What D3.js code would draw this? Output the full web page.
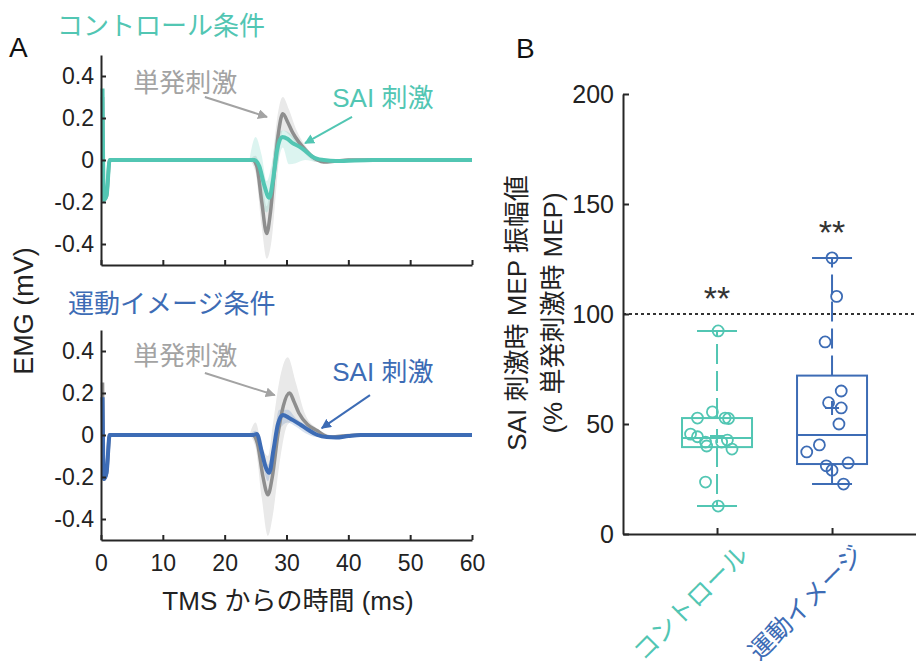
<!DOCTYPE html>
<html lang="ja">
<head>
<meta charset="UTF-8">
<title>SAI MEP</title>
<script src="https://d3js.org/d3.v7.min.js"></script>
<style>
  body { margin: 0; background: #fff; }
  svg { display: block; font-family: "Liberation Sans", "Noto Sans CJK JP", sans-serif; }
  .axis path, .axis line { stroke: #262626; stroke-width: 2; }
</style>
</head>
<body>
<svg width="916" height="661"></svg>
<script>
// ---- panel A: mean EMG traces (ms, mV) ----
const tCtrlSingle = [0.25, 0.45, 0.9, 1.4, 24.5, 25.2, 26.0, 26.8, 27.4, 28.2, 28.8, 29.4, 30.2, 31.0, 32.0, 33.0, 34.0, 35.0, 36.0, 38.0, 40, 60];
const vCtrlSingle = [0.30, -0.19, -0.17, 0, 0, -0.03, -0.2, -0.35, -0.25, 0.0, 0.15, 0.22, 0.18, 0.13, 0.085, 0.05, 0.02, 0.0, -0.01, -0.005, 0, 0];
const tCtrlSai = [0.25, 0.45, 0.9, 1.4, 24.8, 25.6, 26.4, 27.2, 27.8, 28.5, 29.3, 30.2, 31.0, 32.0, 33.0, 34.0, 35.0, 36.0, 38.0, 44, 60];
const vCtrlSai = [0.34, -0.19, -0.17, 0, 0, -0.03, -0.12, -0.18, -0.1, 0.05, 0.11, 0.1, 0.08, 0.065, 0.045, 0.02, 0.005, 0, -0.005, 0, 0];
const tCtrlBand = [24, 25, 26, 26.8, 27.6, 28.4, 29.4, 30.4, 31.5, 33, 35, 36];
const ctrlSingleHi = [0, 0.02, -0.08, -0.22, -0.05, 0.18, 0.30, 0.24, 0.15, 0.07, 0.01, 0];
const ctrlSingleLo = [0, -0.06, -0.32, -0.47, -0.38, -0.12, 0.14, 0.12, 0.08, 0.03, -0.01, 0];
const ctrlSaiHi = [0, 0.11, 0.02, -0.1, -0.02, 0.12, 0.14, 0.13, 0.10, 0.06, 0.01, 0];
const ctrlSaiLo = [0, -0.02, -0.2, -0.25, -0.18, -0.05, 0.06, -0.02, -0.015, 0.0, -0.01, 0];

const tImgSingle = [0.25, 0.45, 0.9, 1.4, 24.5, 25.3, 26.2, 27.0, 27.7, 28.6, 29.5, 30.5, 31.2, 32.0, 33.4, 35.0, 36.0, 37.0, 39.0, 42, 60];
const vImgSingle = [0.25, -0.21, -0.18, 0, 0, -0.04, -0.2, -0.285, -0.2, 0.0, 0.14, 0.2, 0.16, 0.105, 0.05, 0.02, 0.0, -0.01, -0.005, 0, 0];
const tImgSai = [0.25, 0.45, 0.9, 1.4, 24.6, 25.2, 26.0, 26.6, 27.2, 27.9, 28.6, 29.4, 30.5, 32.2, 33.5, 35.0, 36.5, 38.0, 40, 42, 60];
const vImgSai = [0.18, -0.21, -0.18, 0, 0, 0.005, -0.08, -0.15, -0.18, -0.07, 0.05, 0.095, 0.08, 0.05, 0.025, 0.0, -0.01, -0.012, -0.005, 0, 0];
const tImgBand = [24, 25, 26, 27, 27.8, 28.8, 30.2, 31.5, 33, 35, 37];
const imgSingleHi = [0, 0.06, -0.05, -0.1, 0.05, 0.25, 0.37, 0.25, 0.1, 0.03, 0];
const imgSingleLo = [0, -0.06, -0.3, -0.48, -0.38, -0.15, 0.05, 0.07, 0.02, 0.0, 0];
const imgSaiHi = [0, 0.02, -0.05, -0.14, -0.05, 0.12, 0.12, 0.08, 0.05, 0.01, 0];
const imgSaiLo = [0, -0.01, -0.12, -0.22, -0.1, 0.02, 0.06, 0.04, 0.01, -0.01, 0];

const emgTicks = [-0.4, -0.2, 0, 0.2, 0.4];
const timeTicks = [0, 10, 20, 30, 40, 50, 60];

// ---- panel B: SAI MEP ratio (% single-pulse MEP) ----
const groups = ["コントロール", "運動イメージ"];
const ctrlValues = [92.3, 55.5, 52.7, 52.7, 52.5, 45.4, 44.2, 41.8, 40, 41.8, 42.7, 38.6, 23.6, 12.7];
const ctrlJitter = [0.01, -0.04, -0.17, 0.07, 0.1, -0.23, -0.17, -0.1, -0.09, 0.04, 0.09, 0.13, -0.1, 0.01];
const imgValues = [125.5, 108, 87.3, 65, 59.7, 57.3, 50, 40.5, 37.3, 31, 29, 32.3, 22.7];
const imgJitter = [0, 0.04, -0.06, 0.08, -0.03, 0.08, 0.06, -0.11, -0.22, -0.05, 0, 0.14, 0.1];
// [whisker low, q1, median, q3, whisker high, mean]
const ctrlBox = [12.7, 39.5, 43.6, 52.7, 92.3, 44.5];
const imgBox = [22.7, 31.8, 45, 72, 125.5, 57.3];
const starLevel = [102, 132];
const ratioTicks = [0, 50, 100, 150, 200];

const teal = "#52C6B3", blue = "#3D6CB5", grayLine = "#8E8E8E", grayText = "#A3A3A3";

const svg = d3.select("svg");
const zip = (t, v) => t.map((d, i) => [d, v[i]]);
const zip3 = (t, lo, hi) => t.map((d, i) => [d, lo[i], hi[i]]);
const fmtEmg = d => d === 0 ? "0" : d3.format(".1f")(d).replace("−", "-");

const defs = svg.append("defs");
[["gray", grayText], ["teal", teal], ["blue", blue]].forEach(([id, c]) => {
  defs.append("marker").attr("id", "arr-" + id)
    .attr("viewBox", "0 0 10 10").attr("refX", 9).attr("refY", 5)
    .attr("markerWidth", 5).attr("markerHeight", 5).attr("orient", "auto")
    .append("path").attr("d", "M0,0 L10,5 L0,10 Z").attr("fill", c);
});

const x = d3.scaleLinear().domain([0, 60]).range([101, 472]);

function emgPanel(y, cfg) {
  const g = svg.append("g");
  const line = d3.line().x(d => x(d[0])).y(d => y(d[1])).curve(d3.curveMonotoneX);
  const area = d3.area().x(d => x(d[0])).y0(d => y(d[1])).y1(d => y(d[2])).curve(d3.curveMonotoneX);

  g.append("path").attr("d", area(zip3(cfg.tBand, cfg.singleLo, cfg.singleHi))).attr("fill", "#E9E9E9");
  g.append("path").attr("d", area(zip3(cfg.tBand, cfg.saiLo, cfg.saiHi))).attr("fill", cfg.color).attr("opacity", 0.2);
  g.append("path").attr("d", line(zip(cfg.tSingle, cfg.vSingle)))
    .attr("fill", "none").attr("stroke", grayLine).attr("stroke-width", 3.5).attr("stroke-linejoin", "round");
  g.append("path").attr("d", line(zip(cfg.tSai, cfg.vSai)))
    .attr("fill", "none").attr("stroke", cfg.color).attr("stroke-width", 4).attr("stroke-linejoin", "round");

  const ya = g.append("g").attr("class", "axis").attr("transform", `translate(${x(0)},0)`)
    .call(d3.axisLeft(y).tickValues(emgTicks).tickFormat(fmtEmg).tickSizeInner(-5).tickSizeOuter(0).tickPadding(7));
  ya.selectAll("text").attr("font-size", 23).attr("fill", "#222").attr("font-family", "Liberation Sans");

  const xa = g.append("g").attr("class", "axis").attr("transform", `translate(0,${y.range()[0]})`)
    .call(d3.axisBottom(x).tickValues(timeTicks).tickSizeInner(-5).tickSizeOuter(0).tickPadding(15)
      .tickFormat(cfg.labels ? d3.format("d") : ""));
  xa.selectAll("text").attr("font-size", 23).attr("fill", "#222").attr("font-family", "Liberation Sans");
  g.selectAll(".domain").attr("fill", "none");

  // annotations
  g.append("text").attr("x", x(5.2)).attr("y", y(cfg.singleLabelY)).attr("dy", "0.36em")
    .attr("font-size", 26).attr("fill", grayText).text("単発刺激");
  g.append("text").attr("x", x(37.4)).attr("y", y(cfg.saiLabelY)).attr("dy", "0.36em")
    .attr("font-size", 26).attr("fill", cfg.color).text("SAI 刺激");
  const arrow = (a, c, id) => g.append("line")
    .attr("x1", x(a[0])).attr("y1", y(a[1])).attr("x2", x(a[2])).attr("y2", y(a[3]))
    .attr("stroke", c).attr("stroke-width", 2).attr("marker-end", `url(#arr-${id})`);
  arrow(cfg.grayArrow, grayText, "gray");
  arrow(cfg.saiArrow, cfg.color, cfg.id);
}

const yTop = d3.scaleLinear().domain([-0.5, 0.5]).range([265, 55]);
const yBot = d3.scaleLinear().domain([-0.5, 0.5]).range([540, 330]);

emgPanel(yTop, {
  color: teal, id: "teal", labels: false,
  tSingle: tCtrlSingle, vSingle: vCtrlSingle, tSai: tCtrlSai, vSai: vCtrlSai,
  tBand: tCtrlBand, singleHi: ctrlSingleHi, singleLo: ctrlSingleLo, saiHi: ctrlSaiHi, saiLo: ctrlSaiLo,
  singleLabelY: 0.367, saiLabelY: 0.295, grayArrow: [16.8, 0.30, 26.85, 0.205], saiArrow: [40.6, 0.205, 33.0, 0.08]
});
emgPanel(yBot, {
  color: blue, id: "blue", labels: true,
  tSingle: tImgSingle, vSingle: vImgSingle, tSai: tImgSai, vSai: vImgSai,
  tBand: tImgBand, singleHi: imgSingleHi, singleLo: imgSingleLo, saiHi: imgSaiHi, saiLo: imgSaiLo,
  singleLabelY: 0.376, saiLabelY: 0.30, grayArrow: [16.8, 0.295, 28.1, 0.19], saiArrow: [43.5, 0.19, 35.7, 0.033]
});

svg.append("text").attr("x", 9).attr("y", 57).attr("font-size", 28).attr("fill", "#111").text("A");
svg.append("text").attr("x", 57).attr("y", 35).attr("font-size", 26).attr("fill", teal).text("コントロール条件");
svg.append("text").attr("x", 68).attr("y", 313).attr("font-size", 26).attr("fill", blue).text("運動イメージ条件");
svg.append("text").attr("transform", "translate(33,311) rotate(-90)").attr("text-anchor", "middle")
  .attr("font-size", 27).attr("fill", "#222").text("EMG (mV)");
svg.append("text").attr("x", 288).attr("y", 610).attr("text-anchor", "middle")
  .attr("font-size", 26).attr("fill", "#222").text("TMS からの時間 (ms)");

// ---- panel B ----
const xB = d3.scaleLinear().domain([0.1826, 2.73]).range([623, 916]);
const yB = d3.scaleLinear().domain([0, 200]).range([534, 94]);
const gB = svg.append("g");

gB.append("line").attr("x1", xB.range()[0]).attr("x2", xB.range()[1]).attr("y1", yB(100)).attr("y2", yB(100))
  .attr("stroke", "#333").attr("stroke-width", 2).attr("stroke-dasharray", "3,3");

const yaB = gB.append("g").attr("class", "axis").attr("transform", `translate(${xB.range()[0]},0)`)
  .call(d3.axisLeft(yB).tickValues(ratioTicks).tickSizeInner(-6).tickSizeOuter(0).tickPadding(9));
yaB.selectAll("text").attr("font-size", 25).attr("fill", "#222").attr("font-family", "Liberation Sans");
gB.append("g").attr("class", "axis").attr("transform", `translate(0,${yB(0)})`)
  .call(d3.axisBottom(xB).tickValues([1, 2]).tickSizeInner(-6).tickSizeOuter(0).tickFormat(""));
gB.selectAll(".domain").attr("fill", "none");

function boxGroup(i, vals, jit, box, color) {
  const cx = xB(i), bw = 70, cap = 40;
  const g = gB.append("g").attr("stroke", color).attr("fill", "none").attr("stroke-width", 2);
  g.append("line").attr("x1", cx).attr("x2", cx).attr("y1", yB(box[3])).attr("y2", yB(box[4])).attr("stroke-dasharray", "20,7");
  g.append("line").attr("x1", cx).attr("x2", cx).attr("y1", yB(box[1])).attr("y2", yB(box[0])).attr("stroke-dasharray", "20,7");
  g.append("line").attr("x1", cx - cap / 2).attr("x2", cx + cap / 2).attr("y1", yB(box[4])).attr("y2", yB(box[4]));
  g.append("line").attr("x1", cx - cap / 2).attr("x2", cx + cap / 2).attr("y1", yB(box[0])).attr("y2", yB(box[0]));
  g.append("rect").attr("x", cx - bw / 2).attr("width", bw).attr("y", yB(box[3])).attr("height", yB(box[1]) - yB(box[3]));
  g.append("line").attr("x1", cx - bw / 2).attr("x2", cx + bw / 2).attr("y1", yB(box[2])).attr("y2", yB(box[2]));
  g.append("path").attr("d", `M${cx - 7},${yB(box[5])}h14M${cx},${yB(box[5]) - 7}v14`);
  g.selectAll("circle").data(vals).join("circle")
    .attr("cx", (d, k) => xB(i + jit[k])).attr("cy", d => yB(d)).attr("r", 5.5).attr("stroke-width", 1.8);
  gB.append("text").attr("x", cx).attr("y", yB(starLevel[i - 1])).attr("text-anchor", "middle")
    .attr("font-size", 34).attr("fill", "#333").text("**");
  gB.append("text").attr("transform", `translate(${cx + 33},${yB(0) + 22}) rotate(-45)`)
    .attr("text-anchor", "end").attr("font-size", 25).attr("fill", color).text(groups[i - 1]);
}
boxGroup(1, ctrlValues, ctrlJitter, ctrlBox, teal);
boxGroup(2, imgValues, imgJitter, imgBox, blue);

svg.append("text").attr("x", 516).attr("y", 58).attr("font-size", 28).attr("fill", "#111").text("B");
svg.append("text").attr("transform", "translate(526,313) rotate(-90)").attr("text-anchor", "middle")
  .attr("font-size", 26).attr("fill", "#222").text("SAI 刺激時 MEP 振幅値");
svg.append("text").attr("transform", "translate(562,313) rotate(-90)").attr("text-anchor", "middle")
  .attr("font-size", 26).attr("fill", "#222").text("(% 単発刺激時 MEP)");
</script>
</body>
</html>
